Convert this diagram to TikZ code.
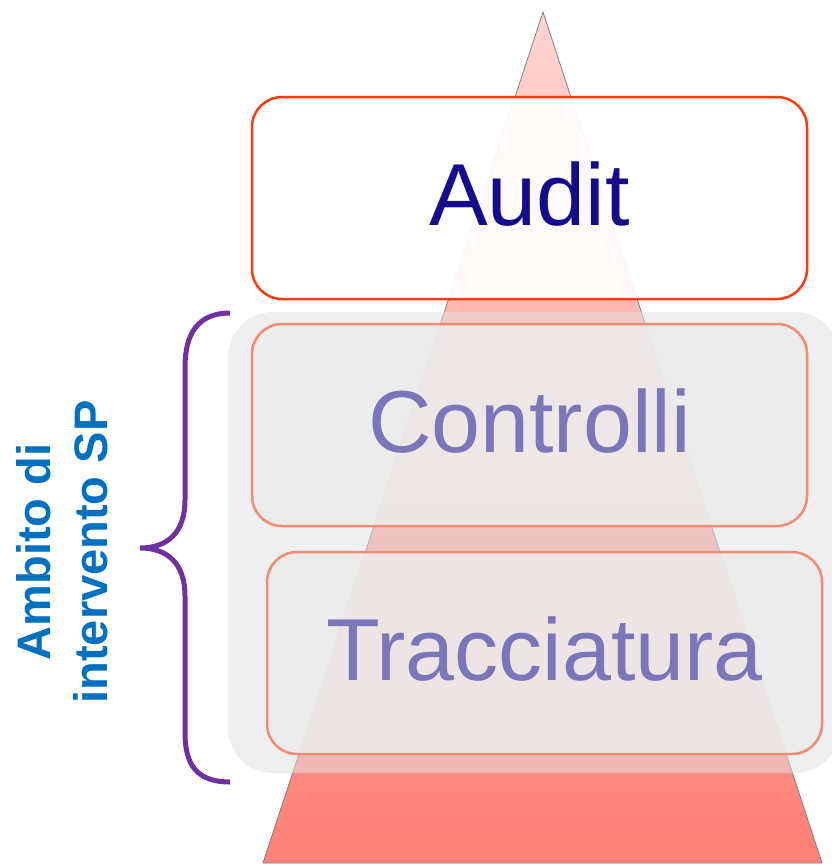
\documentclass[tikz,border=0pt]{standalone}
\usepackage{fontspec}
\setmainfont{Liberation Sans}
\usepackage{tikz}
\usetikzlibrary{positioning}

\definecolor{auditred}{RGB}{255,58,16}
\definecolor{levelline}{RGB}{240,140,115}
\definecolor{audittext}{RGB}{20,12,140}
\definecolor{leveltext}{RGB}{123,117,185}
\definecolor{bracepurple}{RGB}{112,48,160}
\definecolor{scopeblue}{RGB}{0,112,192}
\definecolor{bggray}{RGB}{225,225,225}
\definecolor{tiptop}{RGB}{255,212,208}
\definecolor{tipbase}{RGB}{255,128,120}

\tikzset{
	levelbox/.style={draw, rounded corners=30pt, line width=2.5pt, minimum width=555pt, minimum height=202pt, inner sep=0pt, text depth=8pt, font=\fontsize{88}{100}\selectfont},
	auditbox/.style={levelbox, draw=auditred, fill=white, fill opacity=0.93, text opacity=1, text=audittext},
	lowbox/.style={levelbox, draw=levelline, fill=bggray!60, fill opacity=0.85, text opacity=1, text=leveltext},
	scopetext/.style={text=scopeblue, font=\bfseries\fontsize{47}{57}\selectfont, align=center, inner sep=0pt}
}

\begin{document}
\begin{tikzpicture}[x=1pt,y=-1pt]

	\useasboundingbox (0,0) rectangle (832,865);

	% Draw pyramid
	\shade[top color=tiptop, bottom color=tipbase] (543,12) -- (822,863) -- (263,863) -- cycle;
	\draw[gray, line width=0.8pt] (543,12) -- (822,863) -- (263,863) -- cycle;

	% Draw shaded scope area
	\fill[bggray, fill opacity=0.54, rounded corners=45pt] (228,312) rectangle (840,773);

	% Draw levels
	\node[auditbox] (audit) at (529.5,198) {Audit};
	\node[lowbox] (controlli) at (529.5,425) {Controlli};
	\node[lowbox] (tracciatura) at (544.5,653) {Tracciatura};

	% Draw brace and its label
	\draw[bracepurple, line width=5pt] (230,313) .. controls (197,313) and (185,335) .. (185,367) -- (185,500)
		.. controls (185,532) and (168,548) .. (140,548) .. controls (168,548) and (185,564) .. (185,596)
		-- (185,733) .. controls (185,765) and (197,782) .. (230,782);
	\node[scopetext, rotate=90] (scope) at (62,552) {Ambito di\\intervento SP};

\end{tikzpicture}
\end{document}
